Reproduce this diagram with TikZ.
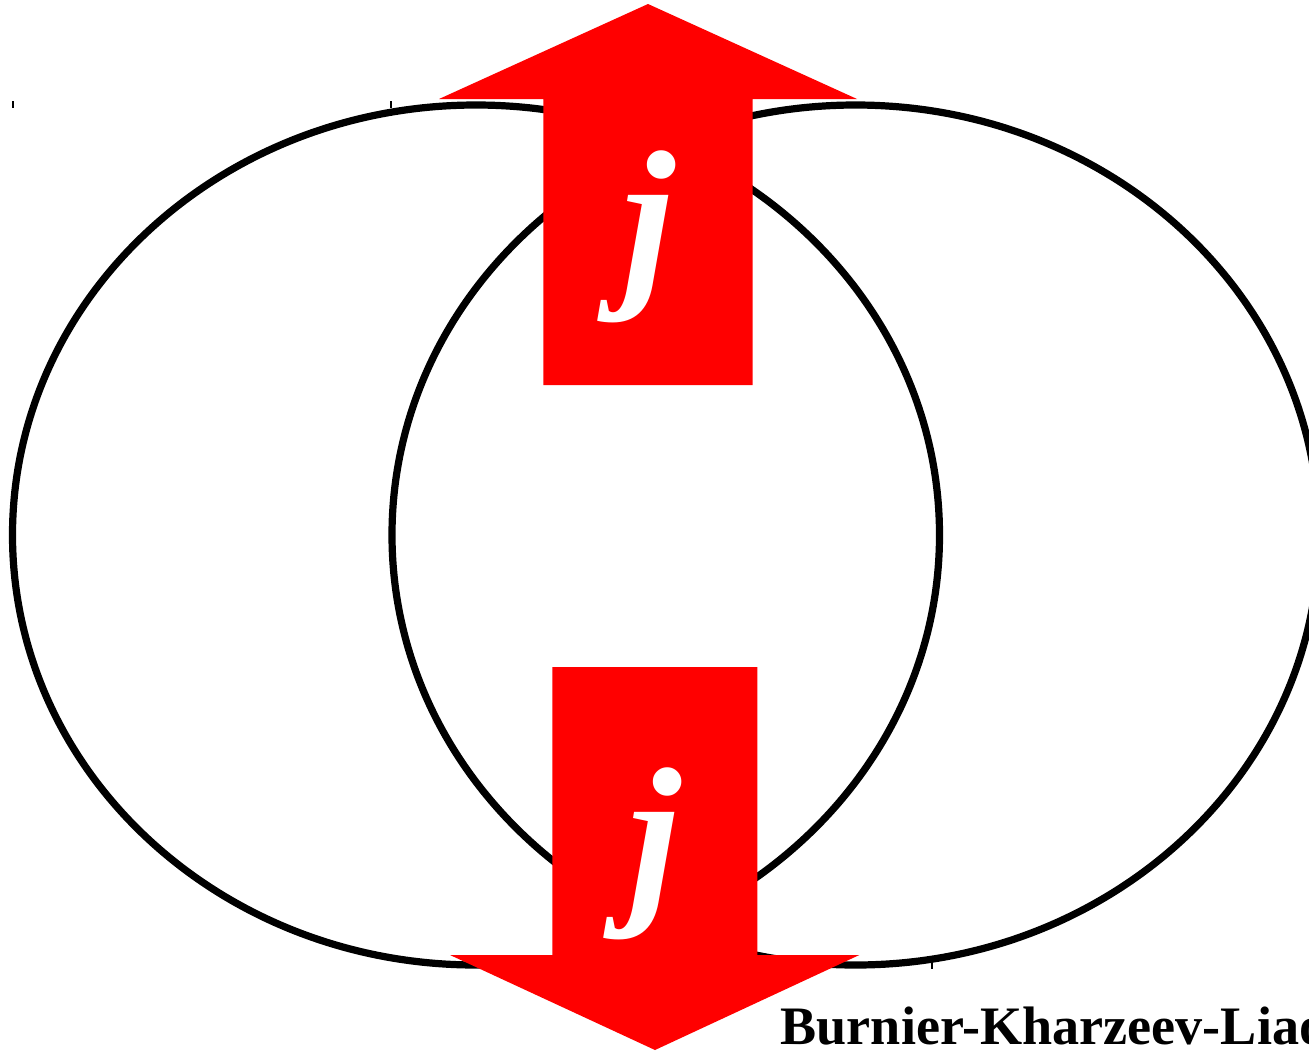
\documentclass[tikz,border=0pt]{standalone}
\usepackage{fontspec}
\setmainfont{Liberation Serif}
\begin{document}
\begin{tikzpicture}[x=0.01cm,y=-0.01cm,
  nucleus/.style={draw=black,line width=2.05pt},
  tickmark/.style={draw=black,line width=0.35pt},
  current/.style={fill=red},
  jlabel/.style={text=white,inner sep=0pt,anchor=base west,font=\fontsize{54}{60}\selectfont\bfseries\itshape},
  credit/.style={text=black,inner sep=0pt,anchor=base west,font=\fontsize{15.4}{18}\selectfont\bfseries}]
\clip (0,0) rectangle (1309,1051);
\fill[white] (0,0) rectangle (1309,1051);
% axis ticks
\draw[tickmark] (13,101) -- (13,108);
\draw[tickmark] (391,101) -- (391,108);
\draw[tickmark] (932,962) -- (932,969);
% two nuclei
\draw[nucleus] (476,535) ellipse [x radius=463.5, y radius=430];
\draw[nucleus] (855.5,535) ellipse [x radius=463.5, y radius=430];
% upward current arrow
\fill[current] (648,4) -- (857,99) -- (752.7,99) -- (752.7,385) -- (543.3,385) -- (543.3,99) -- (439,99) -- cycle;
% downward current arrow
\fill[current] (655,1050) -- (859.3,955) -- (757.3,955) -- (757.3,667) -- (552.3,667) -- (552.3,955) -- (450,955) -- cycle;
\node[jlabel] (jup) at (622,282) {j};
\node[jlabel] (jdown) at (628,899) {j};
\node[credit] (bkl) at (780,1044) {Burnier-Kharzeev-Liao};
\end{tikzpicture}
\end{document}
